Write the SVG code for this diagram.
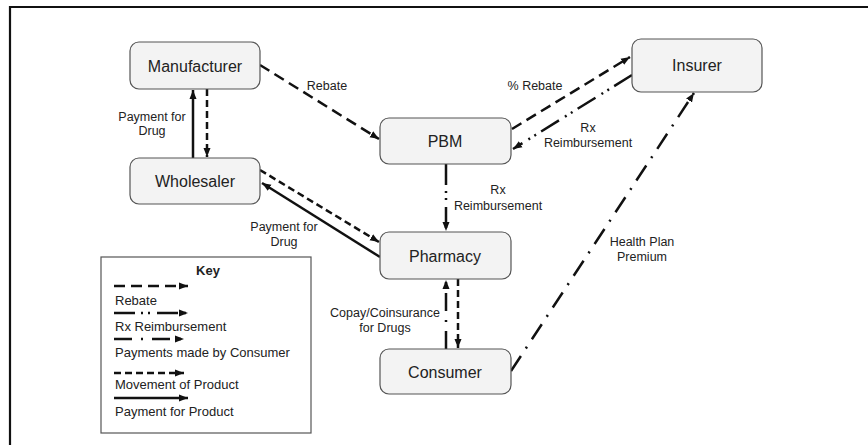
<svg xmlns="http://www.w3.org/2000/svg" width="868" height="445" viewBox="0 0 868 445">
<defs>
<style>
.node rect{fill:#f3f3f3;stroke:#555;stroke-width:1.2}
.node text{font-family:"Liberation Sans",Arial,sans-serif;font-size:16px;fill:#222;text-anchor:middle}
.lbl{font-family:"Liberation Sans",Arial,sans-serif;font-size:12.5px;fill:#222;text-anchor:middle}
.klbl{font-family:"Liberation Sans",Arial,sans-serif;font-size:13px;fill:#222}
.c{fill:none;stroke:#111;stroke-width:2.5;marker-end:url(#ah)}
.rebate{stroke-dasharray:11 6}
.rx{stroke-dasharray:21 6 2 5 2 7}
.cons{stroke-dasharray:18 9 2 9}
.move{stroke-dasharray:7 4}
</style>
<marker id="ah" markerUnits="userSpaceOnUse" markerWidth="10" markerHeight="8" refX="9" refY="4" orient="auto">
<path d="M0,0.5 L9,4 L0,7.5 z" fill="#111"/>
</marker>
</defs>
<rect width="868" height="445" fill="#fff"/>
<g id="frame" stroke="#111" stroke-width="2.2">
<line x1="9" y1="7" x2="868" y2="7"/>
<line x1="10" y1="6" x2="10" y2="445"/>
</g>
<g id="connectors">
<line class="c rebate" x1="260" y1="65" x2="379" y2="139"/>
<line class="c" x1="193" y1="158" x2="193" y2="90"/>
<line class="c move" x1="207" y1="89" x2="207" y2="157"/>
<line class="c move" x1="260" y1="170" x2="379" y2="242"/>
<line class="c" x1="380" y1="257" x2="262" y2="183"/>
<line class="c rebate" x1="512" y1="129" x2="630" y2="57"/>
<line class="c rx" x1="632" y1="75" x2="513" y2="149"/>
<line class="c rx" x1="446" y1="164" x2="446" y2="231"/>
<line class="c cons" x1="446" y1="349" x2="446" y2="280"/>
<line class="c move" x1="458" y1="279" x2="458" y2="348"/>
<line class="c cons" x1="511" y1="371" x2="694" y2="93"/>
<text class="lbl" x="327" y="90">Rebate</text>
<text class="lbl" x="152" y="121">Payment for</text>
<text class="lbl" x="152" y="135">Drug</text>
<text class="lbl" x="284" y="231">Payment for</text>
<text class="lbl" x="284" y="246">Drug</text>
<text class="lbl" x="535" y="90">% Rebate</text>
<text class="lbl" x="588" y="132">Rx</text>
<text class="lbl" x="588" y="147">Reimbursement</text>
<text class="lbl" x="498" y="194">Rx</text>
<text class="lbl" x="498" y="210">Reimbursement</text>
<text class="lbl" x="385" y="317">Copay/Coinsurance</text>
<text class="lbl" x="385" y="332">for Drugs</text>
<text class="lbl" x="642" y="246">Health Plan</text>
<text class="lbl" x="642" y="261">Premium</text>
</g>
<g id="manufacturer" class="node"><rect x="130" y="42" width="130" height="47" rx="9"/><text x="195" y="72">Manufacturer</text></g>
<g id="wholesaler" class="node"><rect x="130" y="158" width="130" height="46" rx="9"/><text x="195" y="187">Wholesaler</text></g>
<g id="pbm" class="node"><rect x="380" y="118" width="131" height="46" rx="9"/><text x="445" y="147">PBM</text></g>
<g id="insurer" class="node"><rect x="632" y="39" width="130" height="53" rx="9"/><text x="697" y="71">Insurer</text></g>
<g id="pharmacy" class="node"><rect x="380" y="232" width="131" height="47" rx="9"/><text x="445" y="262">Pharmacy</text></g>
<g id="consumer" class="node"><rect x="380" y="349" width="131" height="45" rx="9"/><text x="445" y="378">Consumer</text></g>
<g id="key">
<rect x="101" y="257" width="210" height="176" fill="#fff" stroke="#555" stroke-width="1.2"/>
<text class="klbl" x="208" y="275" text-anchor="middle" font-weight="bold">Key</text>
<line class="c rebate" x1="114" y1="286" x2="188" y2="286"/>
<text class="klbl" x="115" y="305">Rebate</text>
<line class="c rx" x1="114" y1="313" x2="188" y2="313"/>
<text class="klbl" x="115" y="331">Rx Reimbursement</text>
<line class="c cons" x1="114" y1="339" x2="184" y2="339"/>
<text class="klbl" x="115" y="357">Payments made by Consumer</text>
<line class="c move" x1="114" y1="373" x2="184" y2="373"/>
<text class="klbl" x="115" y="389">Movement of Product</text>
<line class="c" x1="114" y1="398" x2="188" y2="398"/>
<text class="klbl" x="115" y="416">Payment for Product</text>
</g>
</svg>
